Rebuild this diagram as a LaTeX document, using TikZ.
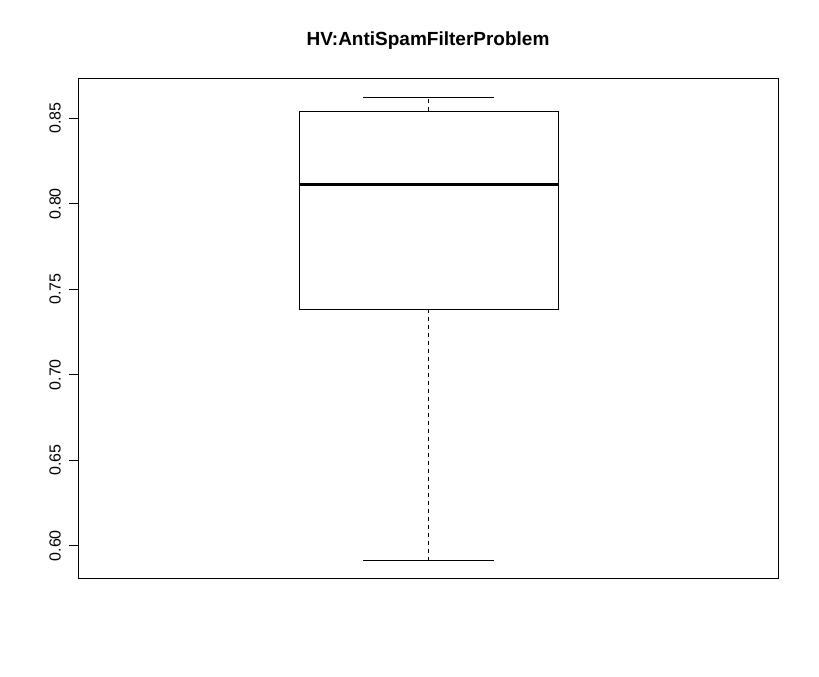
\documentclass[tikz,border=0pt]{standalone}
\usepackage{fontspec}
\setmainfont{Liberation Sans}

\tikzset{
  frame/.style={draw=black, line width=1pt},
  whisker/.style={draw=black, line width=1pt, dash pattern=on 4pt off 4pt},
  ticklabel/.style={rotate=90, font=\fontsize{16}{18}\selectfont, inner sep=0pt},
}

\begin{document}
\begin{tikzpicture}[x=1pt, y=-1pt, line width=1pt]
        \useasboundingbox (0,0) rectangle (819,677);

        \node[font=\bfseries\fontsize{19}{22}\selectfont] (title) at (428,41) {HV:AntiSpamFilterProblem};

        % plot frame
        \draw[frame] (78,78) rectangle (778,578);

        % y axis ticks
        \foreach \v [count=\i] in {0.60,0.65,0.70,0.75,0.80,0.85} {
            \pgfmathsetmacro{\yy}{545.7-(\v-0.60)*1710}
            \coordinate (t\i) at (78,\yy);
            \draw[frame] (t\i) -- ++(-8.7,0);
            \node[ticklabel] (lab\i) at (55,\yy) {\v};
        }

        % box
        \coordinate (hi) at (428.3,97.3);
        \coordinate (q3) at (428.3,111);
        \coordinate (q1) at (428.3,309.3);
        \coordinate (lo) at (428.3,560);
        \draw[frame] (299.3,111) rectangle (558.3,309.3);
        \draw[draw=black, line width=3pt] (299.3,184.3) -- (558.3,184.3);
        \path[whisker] (q3) edge (hi) (q1) edge (lo);
        \draw[frame] (363.3,97.3) -- (493.5,97.3);
        \draw[frame] (363.3,560) -- (493.5,560);
    \end{tikzpicture}
\end{document}
